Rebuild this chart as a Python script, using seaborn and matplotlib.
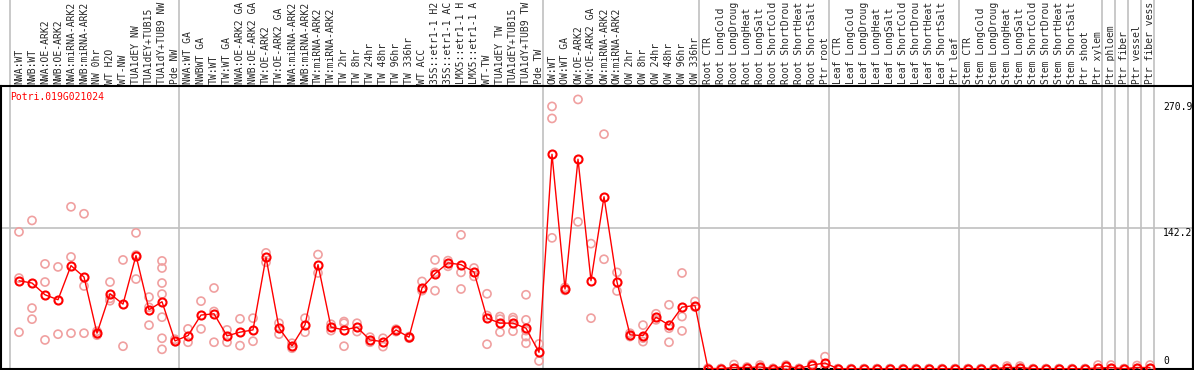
import numpy as np
import pandas as pd
import matplotlib
matplotlib.use("Agg")
import matplotlib.pyplot as plt
import seaborn as sns

# ---- data ----
gene_name = "Potri.019G021024"

labels_nw = ["NWA:WT", "NWB:WT", "NWA:OE-ARK2", "NWB:OE-ARK2", "NWA:miRNA-ARK2",
             "NWB:miRNA-ARK2", "NW 0hr", "WT H2O", "WT-NW", "TUA1dEY NW",
             "TUA1dEY+TUB15", "TUA1dY+TUB9 NW", "Pde NW"]
labels_tw = ["NWA:WT GA", "NWBWT GA", "TW:WT", "TW:WT GA", "NWA:OE-ARK2 GA",
             "NWB:OE-ARK2 GA", "TW:OE-ARK2", "TW:OE-ARK2 GA", "NWA:miRNA-ARK2",
             "NWB:miRNA-ARK2", "TW:miRNA-ARK2", "TW:miRNA-ARK2", "TW 2hr", "TW 8hr",
             "TW 24hr", "TW 48hr", "TW 96hr", "TW 336hr", "WT ACC", "35S::etr1-1 H2",
             "35S::etr1-1 AC", "LMX5::etr1-1 H", "LMX5::etr1-1 A", "WT-TW",
             "TUA1dEY TW", "TUA1dEY+TUB15", "TUA1dY+TUB9 TW", "Pde TW"]
labels_ow = ["OW:WT", "OW:WT GA", "OW:OE-ARK2", "OW:OE-ARK2 GA", "OW:miRNA-ARK2",
             "OW:miRNA-ARK2", "OW 2hr", "OW 8hr", "OW 24hr", "OW 48hr", "OW 96hr",
             "OW 336hr"]
labels_root = ["Root CTR", "Root LongCold", "Root LongDroug", "Root LongHeat",
               "Root LongSalt", "Root ShortCold", "Root ShortDrou", "Root ShortHeat",
               "Root ShortSalt", "Ptr root"]
labels_leaf = ["Leaf CTR", "Leaf LongCold", "Leaf LongDroug", "Leaf LongHeat",
               "Leaf LongSalt", "Leaf ShortCold", "Leaf ShortDrou", "Leaf ShortHeat",
               "Leaf ShortSalt", "Ptr leaf"]
labels_stem = ["Stem CTR", "Stem LongCold", "Stem LongDroug", "Stem LongHeat",
               "Stem LongSalt", "Stem ShortCold", "Stem ShortDrou", "Stem ShortHeat",
               "Stem ShortSalt", "Ptr shoot", "Ptr xylem"]
labels_ptr = ["Ptr phloem", "Ptr fiber", "Ptr vessel", "Ptr fiber vess"]

means = [88.7, 86.4, 74.6, 69.6, 103.9, 92.4, 36.0, 75.6, 65.2, 114.0, 59.5, 67.6, 28.2,
         33.6, 54.2, 55.5, 33.3, 37.0, 39.3, 112.3, 41.3, 23.2, 44.4, 104.9, 42.0, 39.3,
         42.0, 29.2, 27.5, 39.3, 32.0, 81.4, 95.8, 106.6, 104.9, 97.5, 51.1, 46.1, 46.1,
         41.0, 16.8,
         215.8, 80.4, 210.8, 88.7, 173.1, 87.4, 34.3, 33.6, 52.1, 44.1, 62.2, 63.8,
         0.5, 0.4, 1.5, 1.5, 2.0, 0.5, 3.0, 0.5, 4.0, 6.0,
         0.3, 0.3, 0.3, 0.3, 0.3, 0.3, 0.3, 0.3, 0.3, 0.3,
         0.3, 0.3, 0.3, 1.5, 1.5, 0.3, 0.3, 0.3, 0.3, 0.3, 1.0,
         1.5, 0.3, 1.5, 1.5]

replicates = [
    [137.8, 91.4, 37.0], [149.3, 61.2, 50.1], [105.6, 87.4, 29.2], [102.6, 35.0],
    [163.0, 112.6, 36.0], [156.0, 83.4, 36.0], [38.0, 35.0, 34.0], [87.4, 68.6, 71.0],
    [109.6, 22.9], [136.8, 90.4, 114.5], [72.3, 44.1, 62.0],
    [108.6, 101.5, 86.4, 75.3, 52.1, 30.9, 19.8], [29.9, 27.5],
    [40.3, 26.9], [68.2, 40.3], [81.4, 57.8, 26.9], [39.3, 26.9], [50.4, 23.5],
    [51.1, 27.9], [116.7, 107.3], [46.1, 35.0], [25.9, 20.9], [51.1, 37.0],
    [115.0, 96.5], [45.0, 38.6], [47.7, 46.0, 22.9], [46.0, 37.6], [32.0, 26.9],
    [30.9, 22.5], [40.0, 37.6], [32.6, 31.0], [88.0, 78.7], [109.6, 97.1, 78.7],
    [108.9, 103.2], [134.8, 97.1, 80.4], [101.5, 93.1], [75.6, 53.8, 24.9],
    [52.7, 50.1, 37.0], [51.7, 49.4, 38.0], [74.6, 49.4, 38.6, 32.6, 25.9],
    [25.2, 8.1],
    [263.9, 251.8, 131.8], [82.0, 79.0], [270.9, 147.9], [126.0, 51.1],
    [236.0, 110.3], [97.1, 78.4], [36.0, 32.6], [44.1, 31.0, 27.5], [55.5, 49.4],
    [64.5, 41.0, 26.9], [96.5, 52.7, 38.3], [67.9, 62.2],
    [0.8, 0.3], [0.5, 0.3], [4.5, 0.2], [2.0, 1.0], [4.0, 0.3], [0.6, 0.4],
    [4.0, 2.0], [0.6, 0.4], [5.0, 3.0], [12.4, 1.0],
    [0.4, 0.2], [0.4, 0.2], [0.4, 0.2], [0.4, 0.2], [0.4, 0.2], [0.4, 0.2],
    [0.4, 0.2], [0.4, 0.2], [0.4, 0.2], [0.4, 0.2],
    [0.4, 0.2], [0.4, 0.2], [0.4, 0.2], [3.0, 0.5], [3.0, 0.5], [0.4, 0.2],
    [0.4, 0.2], [0.4, 0.2], [0.4, 0.2], [0.4, 0.2], [4.0, 0.2],
    [4.0, 0.3], [0.4, 0.2], [3.5, 0.5], [4.0, 0.3],
]

groups = [labels_nw, labels_tw, labels_ow, labels_root, labels_leaf, labels_stem] + \
         [[lab] for lab in labels_ptr]
labels = [lab for g in groups for lab in g]
max_value = 270.9
mid_value = 142.2

# ---- build tables ----
mean_df = pd.DataFrame({"pos": np.arange(len(labels)), "value": means})
rep_df = pd.DataFrame(
    [(i, v) for i, reps in enumerate(replicates) for v in reps],
    columns=["pos", "value"],
)

# ---- figure ----
sns.set_style("white")
plt.rcParams["font.family"] = ["DejaVu Sans Mono"]

W, H = 1194, 370
fig = plt.figure(figsize=(W / 100, H / 100), dpi=100)
ax = fig.add_axes([1 / W, 1 / H, 1192 / W, 283 / H])

red = "#ff0000"
light = "#f0a0a0"

# replicates (light) then the mean line on top
sns.scatterplot(data=rep_df, x="pos", y="value", ax=ax, marker="o", s=34,
                facecolor="none", edgecolor=light, linewidth=1.2, zorder=3,
                legend=False)
sns.lineplot(data=mean_df, x="pos", y="value", ax=ax, color=red, linewidth=1.0,
             marker="o", markersize=5.8, markerfacecolor="none",
             markeredgecolor=red, markeredgewidth=1.5, zorder=4)

# axis limits: 13 px per category, first centre at px 19
ax.set_xlim(-18 / 13, 1174 / 13)
ax.set_ylim(0, 2 * mid_value)

# group separators, extended through the label band
top_ext = 1 + 86 / 283
bounds = np.cumsum([0] + [len(g) for g in groups])
for b in bounds:
    ax.axvline(b - 0.68, ymin=0, ymax=top_ext, color="#c0c0c0", lw=1.2,
               clip_on=False, zorder=1)
ax.axhline(mid_value, color="#c0c0c0", lw=1.2, zorder=1)
ax.axvline(ax.get_xlim()[1], ymin=0, ymax=top_ext, color="black", lw=1.5,
           clip_on=False, zorder=5)

# category labels on top
ax.xaxis.tick_top()
ax.set_xticks(mean_df["pos"])
ax.set_xticklabels(labels, rotation=90, fontsize=7, family="DejaVu Sans Mono")
ax.tick_params(axis="x", length=0, pad=1.5)
ax.set_yticks([])
ax.set_xlabel("")
ax.set_ylabel("")

for side in ["top", "bottom", "left", "right"]:
    ax.spines[side].set_color("black")
    ax.spines[side].set_linewidth(1.5)

# gene name and value labels
ax.text(9 / 1192, 1 - 6 / 283, gene_name, transform=ax.transAxes, color=red,
        fontsize=7, va="top", ha="left")
yt = ax.get_yaxis_transform()
ax.text(1162 / 1192, max_value - 3, f"{max_value:.1f}", transform=yt, fontsize=7,
        va="top", ha="left", color="black")
ax.text(1162 / 1192, mid_value, f"{mid_value:.1f}", transform=yt, fontsize=7,
        va="top", ha="left", color="black")
ax.text(1162 / 1192, 3, "0", transform=yt, fontsize=7, va="bottom", ha="left",
        color="black")

fig.savefig("out.png", dpi=100)
